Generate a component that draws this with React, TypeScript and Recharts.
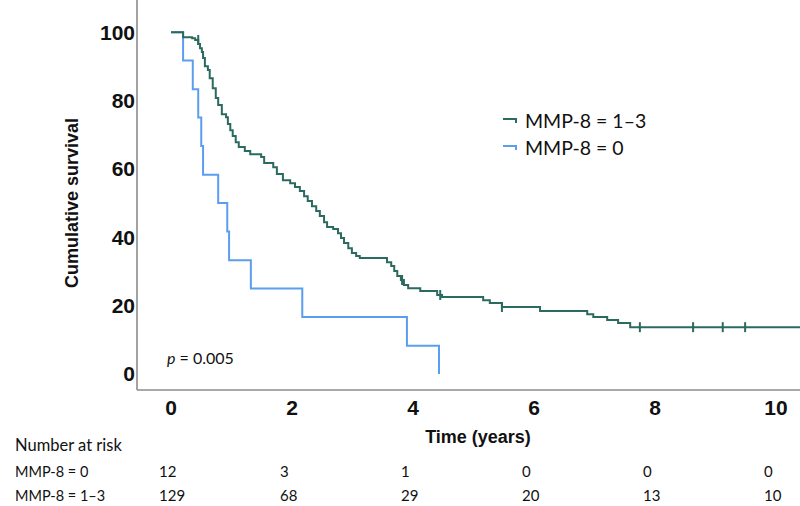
import React from 'react';
import { ComposedChart, Line, Scatter, XAxis, YAxis, Legend } from 'recharts';

// ---- data ----
const timeTicks = [0, 2, 4, 6, 8, 10];
const survivalTicks = [0, 20, 40, 60, 80, 100];

// MMP-8 = 0 (n = 12)
const lowTimes = [0, 0.2, 0.36, 0.45, 0.5, 0.53, 0.78, 0.93, 0.96, 1.32, 2.17, 3.9, 4.43];
const lowSurvival = [100, 91.7, 83.3, 75, 66.7, 58.3, 50, 41.7, 33.3, 25, 16.7, 8.3, 0];

// MMP-8 = 1–3 (n = 129)
const highTimes = [
  0, 0.2, 0.35, 0.4, 0.45, 0.48, 0.51, 0.53, 0.56, 0.61, 0.64, 0.69, 0.74, 0.78, 0.84, 0.91,
  0.94, 0.98, 1.02, 1.07, 1.12, 1.22, 1.31, 1.49, 1.54, 1.69, 1.75, 1.85, 1.97, 2.05, 2.13,
  2.2, 2.26, 2.33, 2.4, 2.46, 2.53, 2.58, 2.68, 2.76, 2.81, 2.86, 2.93, 2.99, 3.06, 3.12,
  3.57, 3.64, 3.69, 3.74, 3.8, 3.85, 3.92, 4.12, 4.4, 4.48, 5.16, 5.27, 5.47, 6.1, 6.88,
  6.98, 7.21, 7.39, 7.59, 10.397,
];
const highSurvival = [
  100, 98.5, 98.2, 97.7, 96.5, 95.3, 94.2, 92.4, 90, 88.9, 86.5, 83.6, 80.7, 78.7, 76, 75.1,
  73.1, 71.3, 69.6, 67.8, 66.4, 65.2, 64.3, 63.5, 61.7, 60.5, 58.5, 56.7, 55.8, 54.7, 53.5,
  52, 50.6, 49.1, 47.7, 46.2, 44.4, 43, 42.4, 41.2, 39.8, 38.3, 36.8, 35.4, 34.5, 33.9,
  32.7, 31.6, 30.1, 28.7, 27.5, 26, 25.1, 24.3, 23.1, 22.5, 21.6, 20.8, 19.6, 18.4, 17.5,
  16.7, 15.8, 14.9, 13.7, 13.7,
];
const highCensorTimes = [0.45, 3.82, 4.45, 5.47, 7.75, 8.63, 9.12, 9.49];
const highCensorSurvival = [97.7, 27.5, 23.1, 19.6, 13.7, 13.7, 13.7, 13.7];

const riskLow = [12, 3, 1, 0, 0, 0];
const riskHigh = [129, 68, 29, 20, 13, 10];

const seriesLabels = ['MMP-8 = 1–3', 'MMP-8 = 0'];
const riskRowLabels = ['MMP-8 = 0', 'MMP-8 = 1–3'];

// ---- derived tables ----
const lowData = lowTimes.map((t, i) => ({ t, s: lowSurvival[i] }));
const highData = highTimes.map((t, i) => ({ t, s: highSurvival[i] }));
const censorData = highCensorTimes.map((t, i) => ({ t, s: highCensorSurvival[i] }));

// ---- styles ----
const TEAL = '#2b6b5f';
const BLUE = '#5b9ef0';
const AXIS = '#8c8c8c';
const X_DOMAIN = [-0.562, 10.397];
const Y_DOMAIN = [-4.68, 109.4];
const BOLD_FONT = "'Liberation Sans', Arial, sans-serif";
const TEXT_FONT = "Lato, 'Noto Sans', sans-serif";

const makeRiskTick = (counts: number[]) => (props: any) => {
  const { x, y, payload } = props;
  const i = timeTicks.indexOf(payload.value);
  return (
    <text x={x - 12} y={y + 12.5} textAnchor="start" fontFamily={TEXT_FONT} fontSize={15} fill="#111">
      {counts[i]}
    </text>
  );
};

const LegendContent = () => (
  <div style={{ fontFamily: TEXT_FONT, fontSize: 19.5, color: '#111' }}>
    {seriesLabels.map((lab, i) => (
      <div key={lab} style={{ display: 'flex', alignItems: 'center', height: 27, whiteSpace: 'nowrap' }}>
        <svg width={23} height={14} style={{ display: 'block' }}>
          <path d="M1 5 H14 V9" stroke={i === 0 ? TEAL : BLUE} strokeWidth={2} fill="none" />
        </svg>
        <span>{lab}</span>
      </div>
    ))}
  </div>
);

export default function App() {
  return (
    <div style={{ position: 'absolute', left: 0, top: 0, width: 800, height: 506, background: '#fff' }}>
      <ComposedChart width={800} height={506} margin={{ top: 0, right: 0, bottom: 0, left: 0 }}>
        <XAxis
          dataKey="t"
          type="number"
          domain={X_DOMAIN}
          allowDataOverflow
          ticks={timeTicks}
          height={74}
          axisLine={{ stroke: AXIS, strokeWidth: 1.6 }}
          tickLine={false}
          tickSize={6}
          tickMargin={4}
          tick={{ fill: '#111', fontSize: 21, fontWeight: 'bold', fontFamily: BOLD_FONT }}
          label={{
            content: () => (
              <g>
                <text x={478} y={443} textAnchor="middle" fontFamily={BOLD_FONT} fontWeight="bold" fontSize={18} fill="#111">
                  Time (years)
                </text>
                <text x={15} y={451} textAnchor="start" fontFamily={TEXT_FONT} fontSize={16.5} fill="#111">
                  Number at risk
                </text>
              </g>
            ),
          }}
        />
        <XAxis
          xAxisId="r0"
          dataKey="t"
          type="number"
          domain={X_DOMAIN}
          allowDataOverflow
          ticks={timeTicks}
          height={24}
          axisLine={false}
          tickLine={false}
          tickSize={0}
          tickMargin={0}
          tick={makeRiskTick(riskLow)}
          label={{
            content: () => (
              <text x={15} y={476.5} fontFamily={TEXT_FONT} fontSize={14.5} fill="#111">
                {riskRowLabels[0]}
              </text>
            ),
          }}
        />
        <XAxis
          xAxisId="r1"
          dataKey="t"
          type="number"
          domain={X_DOMAIN}
          allowDataOverflow
          ticks={timeTicks}
          height={18}
          axisLine={false}
          tickLine={false}
          tickSize={0}
          tickMargin={0}
          tick={makeRiskTick(riskHigh)}
          label={{
            content: () => (
              <text x={15} y={501} fontFamily={TEXT_FONT} fontSize={14.5} fill="#111">
                {riskRowLabels[1]}
              </text>
            ),
          }}
        />
        <YAxis
          type="number"
          domain={Y_DOMAIN}
          allowDataOverflow
          ticks={survivalTicks}
          width={137}
          axisLine={{ stroke: AXIS, strokeWidth: 1.6 }}
          tickLine={false}
          tickSize={0}
          tickMargin={2}
          tick={{ fill: '#111', fontSize: 21, fontWeight: 'bold', fontFamily: BOLD_FONT }}
          label={{
            content: () => (
              <g>
                <text
                  x={78}
                  y={203}
                  transform="rotate(-90 78 203)"
                  textAnchor="middle"
                  fontFamily={BOLD_FONT}
                  fontWeight="bold"
                  fontSize={18}
                  fill="#111"
                >
                  Cumulative survival
                </text>
                <text x={167} y={364} fontFamily={TEXT_FONT} fontSize={16} fill="#111">
                  <tspan fontStyle="italic">p</tspan>
                  <tspan> = 0.005</tspan>
                </text>
              </g>
            ),
          }}
        />
        <Legend
          layout="vertical"
          align="center"
          verticalAlign="middle"
          wrapperStyle={{ left: 502, top: 107, width: 200 }}
          content={() => <LegendContent />}
        />
        <Line
          data={lowData}
          dataKey="s"
          name={seriesLabels[1]}
          type="stepAfter"
          stroke={BLUE}
          strokeWidth={2}
          dot={false}
          activeDot={false}
          isAnimationActive={false}
        />
        <Line
          data={highData}
          dataKey="s"
          name={seriesLabels[0]}
          type="stepAfter"
          stroke={TEAL}
          strokeWidth={2}
          dot={false}
          activeDot={false}
          isAnimationActive={false}
        />
        <Scatter
          data={censorData}
          dataKey="s"
          isAnimationActive={false}
          shape={(p: any) => (
            <line x1={p.cx} x2={p.cx} y1={p.cy - 5} y2={p.cy + 5} stroke={TEAL} strokeWidth={2} />
          )}
        />
      </ComposedChart>
    </div>
  );
}
